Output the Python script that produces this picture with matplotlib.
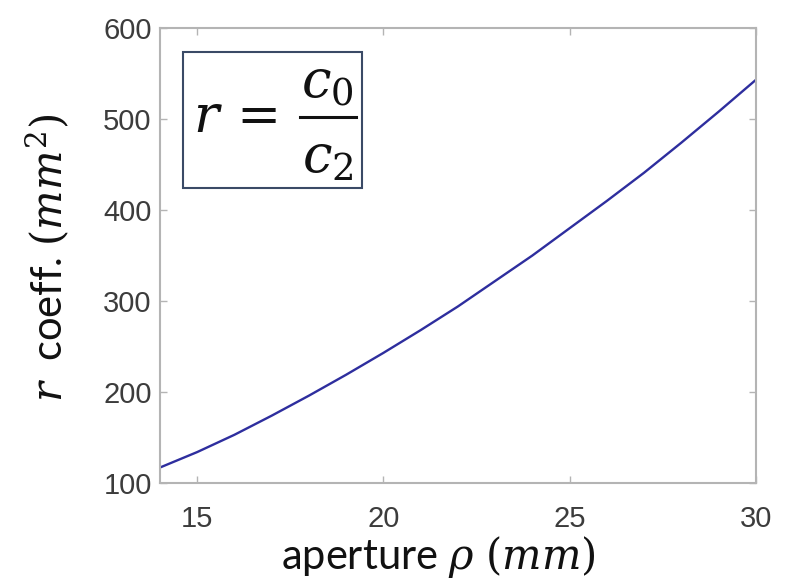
import matplotlib
matplotlib.use("Agg")
import matplotlib.pyplot as plt
from matplotlib.lines import Line2D
from matplotlib.patches import Rectangle

# Data
aperture = [14, 15, 16, 17, 18, 19, 20, 21, 22, 23, 24, 25, 26, 27, 28, 29, 30]
r_coeff = [117, 134, 153, 174, 196, 219, 243, 268, 294, 322, 350, 380, 410, 441, 474, 508, 543]
x_ticks = [15, 20, 25, 30]
y_ticks = [100, 200, 300, 400, 500, 600]

plt.rcParams['mathtext.fontset'] = 'dejavuserif'

fig = plt.figure(figsize=(7.98, 5.86), dpi=100)
ax = fig.add_axes([0.2005, 0.1758, 0.7465, 0.7762])

ax.plot(aperture, r_coeff, color='#2e2e9e', linewidth=1.7)

ax.set_xlim(14, 30)
ax.set_ylim(100, 600)
ax.set_xticks(x_ticks)
ax.set_yticks(y_ticks)

for s in ax.spines.values():
    s.set_color('#b4b4b4')
    s.set_linewidth(1.5)

ax.tick_params(direction='in', length=5, width=1, color='#b4b4b4',
               top=True, right=True, labelsize=21, labelcolor='#3c3c3c')
ax.tick_params(axis='x', pad=16)
ax.tick_params(axis='y', pad=6)
for lab in ax.get_xticklabels() + ax.get_yticklabels():
    lab.set_family('Liberation Sans')

ax.set_xlabel(r'aperture $\rho\ (mm)$', fontsize=30, family='Lato', color='#111111')
ax.set_ylabel(r'$r$  coeff. $(mm^2)$', fontsize=30, family='Lato', color='#111111')
ax.xaxis.label.set_va('center')
ax.yaxis.label.set_va('center')
ax.xaxis.set_label_coords(0.4670, -0.162)
ax.yaxis.set_label_coords(-0.188, 0.4945)

# formula box (annotation, axes-fraction placement)
ax.add_patch(Rectangle((0.0386, 0.6484), 0.3003, 0.2989, transform=ax.transAxes,
                       facecolor='white', edgecolor='#3a4a66', linewidth=1.5, zorder=3))
ax.text(0.0560, 0.7714, r'$r\,=$', transform=ax.transAxes, ha='left', va='baseline',
        fontsize=38, color='#111111', zorder=4)
ax.add_line(Line2D([0.2349, 0.3289], [0.8044, 0.8044], transform=ax.transAxes,
                   color='#111111', linewidth=2.2, zorder=4))
ax.text(0.2815, 0.848, r'$c_0$', transform=ax.transAxes, ha='center', va='baseline',
        fontsize=38, color='#111111', zorder=4)
ax.text(0.2815, 0.6813, r'$c_2$', transform=ax.transAxes, ha='center', va='baseline',
        fontsize=38, color='#111111', zorder=4)

fig.savefig('out.png', dpi=100)
